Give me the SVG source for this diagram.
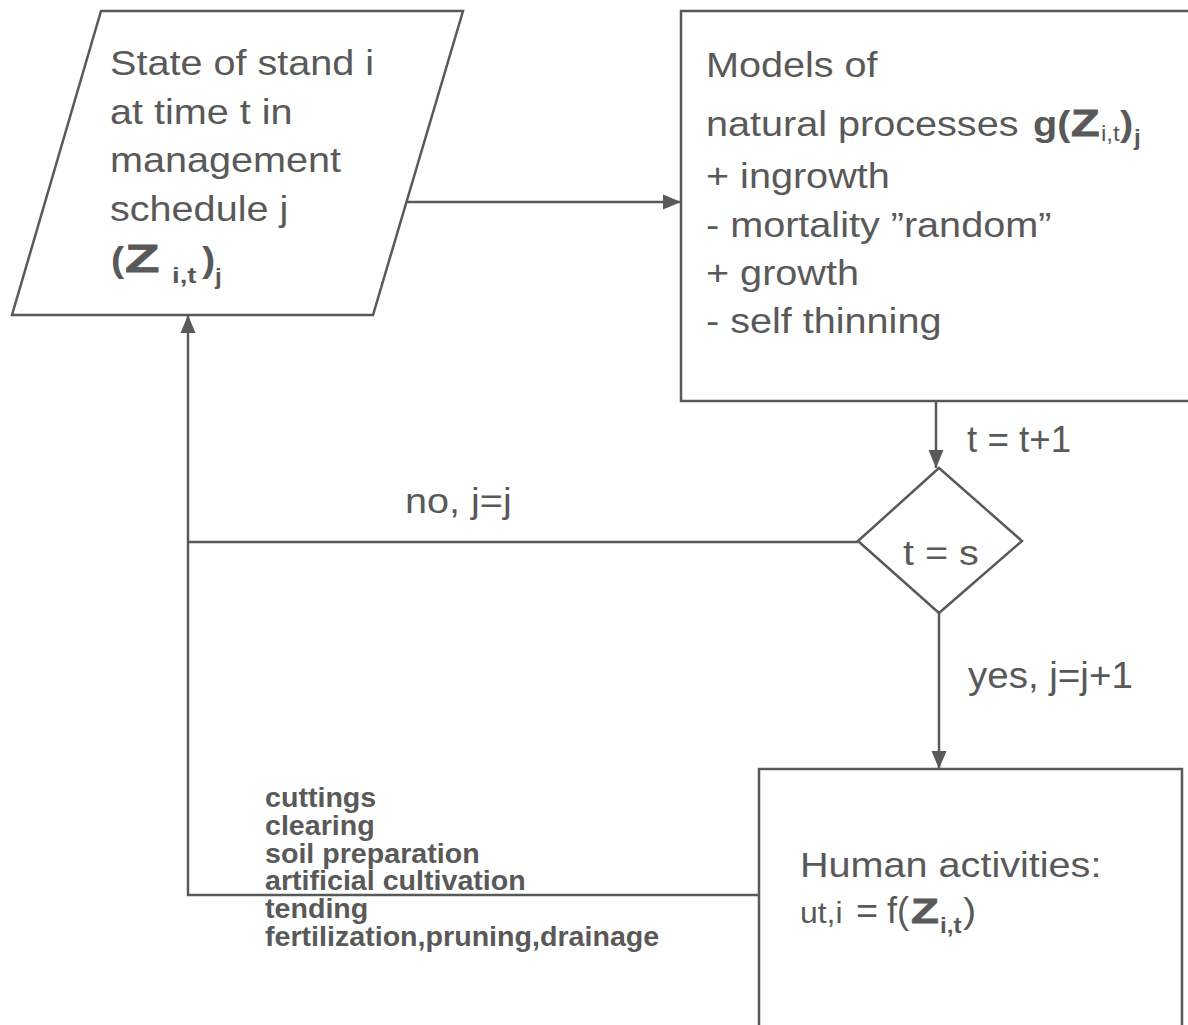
<svg xmlns="http://www.w3.org/2000/svg" width="1188" height="1025" viewBox="0 0 1188 1025">
<style>
.t{font-family:"Liberation Sans",Arial,sans-serif;font-size:36px;fill:#595959}
.b{font-weight:bold}
.s{font-size:22px}
.z{font-family:"Liberation Sans",Arial,sans-serif;font-weight:bold;fill:#595959;stroke:#595959;stroke-width:0.8}
.lb{font-family:"Liberation Sans",Arial,sans-serif;font-size:27px;font-weight:bold;fill:#595959}
.shape{fill:#fff;stroke:#595959;stroke-width:2.5}
.ln{fill:none;stroke:#595959;stroke-width:2.5}
</style>
<defs>
<marker id="ah" markerUnits="userSpaceOnUse" markerWidth="18" markerHeight="16" refX="18" refY="8" orient="auto">
<path d="M0,0.5 L18,8 L0,15.5 z" fill="#595959"/>
</marker>
</defs>
<rect width="1188" height="1025" fill="#fff"/>

<g id="connectors">
<path class="ln" d="M406,202 H681" marker-end="url(#ah)"/>
<path class="ln" d="M936,401 V468" marker-end="url(#ah)"/>
<path class="ln" d="M939,613 V769" marker-end="url(#ah)"/>
<path class="ln" d="M858,542 H188"/>
<path class="ln" d="M759,895 H188 V315" marker-end="url(#ah)"/>
</g>

<g id="state">
<polygon class="shape" points="101,11 463,11 373,315 12,315"/>
<text class="t" transform="translate(110,75) scale(1.1,1)">State of stand i</text>
<text class="t" transform="translate(110,123.5) scale(1.1,1)">at time t in</text>
<text class="t" transform="translate(110,172) scale(1.1,1)">management</text>
<text class="t" transform="translate(110,220.5) scale(1.1,1)">schedule j</text>
<text class="t b" transform="translate(111,272) scale(1.1,1)">(</text>
<text class="z" style="font-size:39px" transform="translate(125,272) scale(1.45,1)">Z</text>
<text class="t b s" transform="translate(172,283) scale(1.25,1)">i,t</text>
<text class="t b" transform="translate(202,272) scale(1.1,1)">)</text>
<text class="t b s" transform="translate(215,284) scale(1.1,1)">j</text>
</g>

<g id="models">
<rect class="shape" x="681" y="11" width="530" height="390"/>
<text class="t" transform="translate(706,77) scale(1.1,1)">Models of</text>
<text class="t" transform="translate(706,136) scale(1.1,1)">natural processes</text>
<text class="t b" transform="translate(1033,136) scale(1.1,1)">g(</text>
<text class="z" style="font-size:36px" transform="translate(1071,136) scale(1.3,1)">Z</text>
<text class="t s" transform="translate(1101,141) scale(1.1,1)">i,t</text>
<text class="t b" transform="translate(1120,136) scale(1.1,1)">)</text>
<text class="t b s" transform="translate(1134,145) scale(1.1,1)">j</text>
<text class="t" transform="translate(706,188) scale(1.1,1)">+ ingrowth</text>
<text class="t" transform="translate(706,237) scale(1.1,1)">- mortality ”random”</text>
<text class="t" transform="translate(706,285) scale(1.1,1)">+ growth</text>
<text class="t" transform="translate(706,333) scale(1.1,1)">- self thinning</text>
</g>

<g id="decision">
<polygon class="shape" points="939,468 1022,541 939,613 858,541"/>
<text class="t" transform="translate(903,565) scale(1.1,1)">t = s</text>
</g>

<g id="human">
<rect class="shape" x="759" y="769" width="423" height="270"/>
<text class="t" transform="translate(800,877) scale(1.1,1)">Human activities:</text>
<text class="t" style="font-size:29px" transform="translate(800,923) scale(1.1,1)">ut,i</text>
<text class="t" transform="translate(856,923) scale(1.05,1)">=</text>
<text class="t" transform="translate(887,923)">f(</text>
<text class="z" style="font-size:35px" transform="translate(911,923) scale(1.3,1)">Z</text>
<text class="t b s" transform="translate(940,933) scale(1.1,1)">i,t</text>
<text class="t" transform="translate(963,923) scale(1.1,1)">)</text>
</g>

<g id="labels">
<text class="t" transform="translate(967,452) scale(1.02,1)">t = t+1</text>
<text class="t" transform="translate(405,513) scale(1.1,1)">no, j=j</text>
<text class="t" transform="translate(968,688) scale(1.07,1)">yes, j=j+1</text>
<text class="lb" transform="translate(265,807) scale(1.06,1)">cuttings</text>
<text class="lb" transform="translate(265,835) scale(1.06,1)">clearing</text>
<text class="lb" transform="translate(265,862.5) scale(1.06,1)">soil preparation</text>
<text class="lb" transform="translate(265,890) scale(1.06,1)">artificial cultivation</text>
<text class="lb" transform="translate(265,918) scale(1.06,1)">tending</text>
<text class="lb" transform="translate(265,946) scale(1.06,1)">fertilization,pruning,drainage</text>
</g>
</svg>
